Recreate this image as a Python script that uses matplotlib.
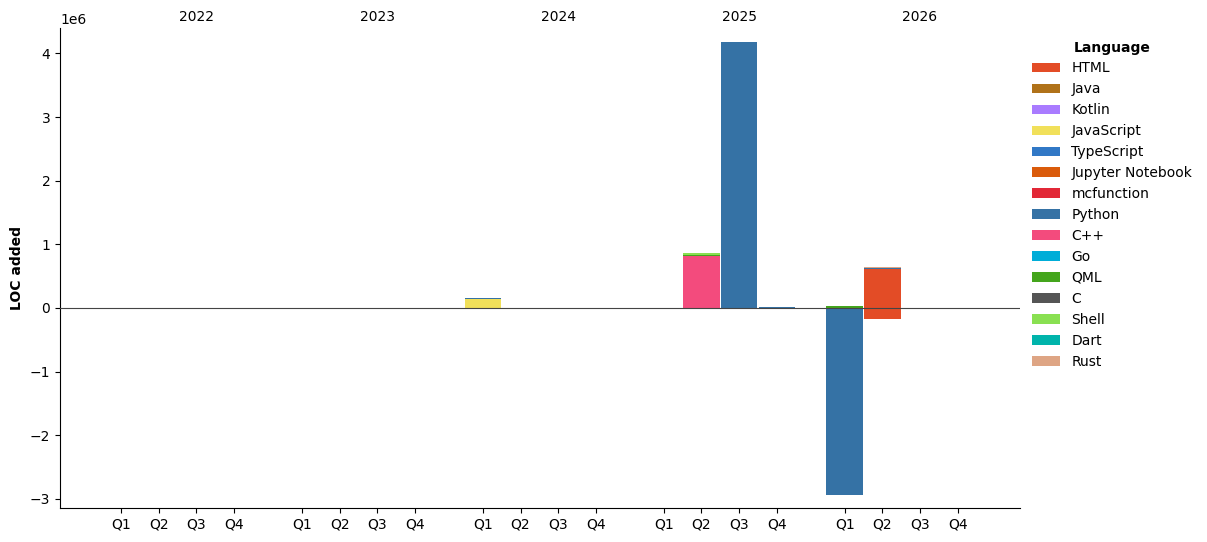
import matplotlib
matplotlib.use("Agg")
import matplotlib.pyplot as plt
from matplotlib.patches import Patch
from matplotlib.transforms import blended_transform_factory
import numpy as np

years = ["2022", "2023", "2024", "2025", "2026"]
quarters = ["Q1", "Q2", "Q3", "Q4"]

languages = ["HTML", "Java", "Kotlin", "JavaScript", "TypeScript", "Jupyter Notebook",
             "mcfunction", "Python", "C++", "Go", "QML", "C", "Shell", "Dart", "Rust"]
colors = ["#e34c26", "#b07219", "#A97BFF", "#f1e05a", "#3178c6", "#DA5B0B",
          "#E22837", "#3572A5", "#f34b7d", "#00ADD8", "#44a51c", "#555555",
          "#89e051", "#00B4AB", "#dea584"]

# Lines added per language, one value per quarter 2022Q1..2026Q4
html_loc       = [0]*17 + [610000, 0, 0]
javascript_loc = [0]*8 + [140000] + [0]*11
python_loc     = [0]*8 + [10000] + [0]*5 + [4180000, 20000, -2940000, 25000, 0, 0]
cpp_loc        = [0]*13 + [820000] + [0]*6
qml_loc        = [0]*13 + [15000, 0, 0, 30000, 0, 0, 0]
shell_loc      = [0]*13 + [35000] + [0]*6
rust_loc       = [0]*17 + [15000, 0, 0]
# Extra negative part for HTML in 2026 Q2
html_neg_loc   = [0]*17 + [-170000, 0, 0]

zeros = [0]*20
series = {
    "HTML": html_loc, "Java": zeros, "Kotlin": zeros, "JavaScript": javascript_loc,
    "TypeScript": zeros, "Jupyter Notebook": zeros, "mcfunction": zeros,
    "Python": python_loc, "C++": cpp_loc, "Go": zeros, "QML": qml_loc, "C": zeros,
    "Shell": shell_loc, "Dart": zeros, "Rust": rust_loc,
}

x = np.array([yi * 4.8 + qi for yi in range(len(years)) for qi in range(4)])

fig = plt.figure(figsize=(12.07, 5.42), dpi=100)
ax = fig.add_axes([0.0497, 0.0627, 0.7953, 0.8856])

pos_bottom = np.zeros(20)
neg_bottom = np.zeros(20)
for lang, col in zip(languages, colors):
    vals = np.array(series[lang], dtype=float)
    if lang == "HTML":
        vals_list = [vals, np.array(html_neg_loc, dtype=float)]
    else:
        vals_list = [vals]
    for v in vals_list:
        pos = np.where(v > 0, v, 0)
        neg = np.where(v < 0, v, 0)
        if pos.any():
            ax.bar(x, pos, bottom=pos_bottom, width=0.97, color=col, linewidth=0)
            pos_bottom += pos
        if neg.any():
            ax.bar(x, neg, bottom=neg_bottom, width=0.97, color=col, linewidth=0)
            neg_bottom += neg

ax.axhline(0, color="#444444", linewidth=0.8, zorder=5)

ax.set_xticks(x)
ax.set_xticklabels(quarters * len(years))
ax.set_xlim(-1.62, 23.85)
ax.set_ylim(-3.145e6, 4.40e6)
ax.set_ylabel("LOC added", fontweight="bold")

trans = blended_transform_factory(ax.transData, ax.transAxes)
for yi, yr in enumerate(years):
    ax.text(yi * 4.8 + 2, 1.008, yr, transform=trans, ha="center", va="bottom", fontsize=10)

ax.spines["top"].set_visible(False)
ax.spines["right"].set_visible(False)

handles = [Patch(facecolor=c, label=l) for l, c in zip(languages, colors)]
leg = ax.legend(handles=handles, title="Language", loc="upper left",
                bbox_to_anchor=(1.0, 1.0), frameon=False)
leg.get_title().set_fontweight("bold")

fig.savefig("out.png", dpi=100)
